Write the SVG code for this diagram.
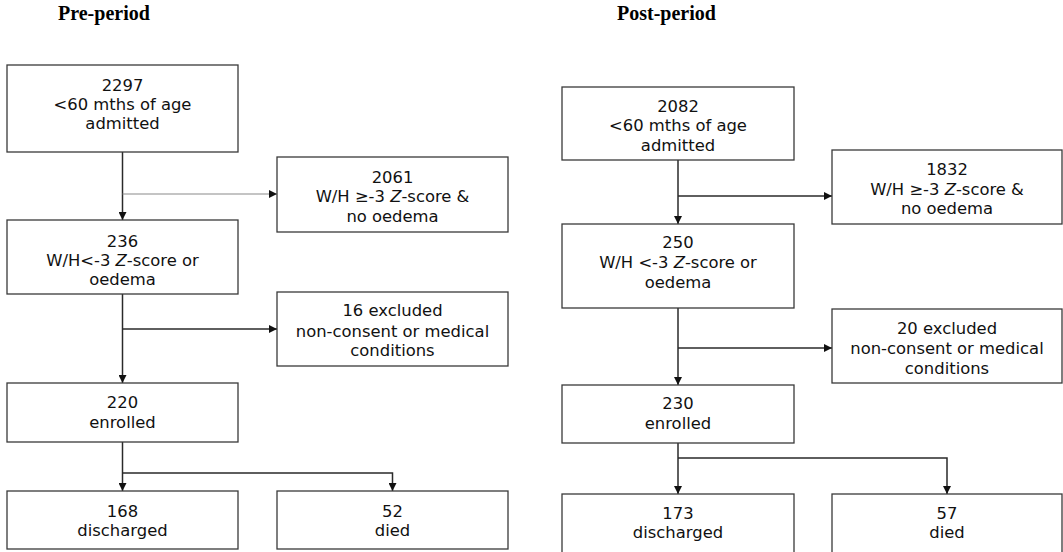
<svg xmlns="http://www.w3.org/2000/svg" width="1063" height="552" viewBox="0 0 1063 552">
<style>
.box{fill:#fff;stroke:#3a3a3a;stroke-width:1.3}
.t{font-family:"DejaVu Sans",Verdana,sans-serif;font-size:16.4px;fill:#111;text-anchor:middle}
.title{font-family:"Liberation Serif","Times New Roman",serif;font-size:20px;font-weight:bold;fill:#000}
.c{fill:none;stroke:#2a2a2a;stroke-width:1.5;marker-end:url(#ah)}
.c.light{stroke:#8a8a8a;stroke-width:1.2}
</style>
<defs>
<marker id="ah" viewBox="0 0 8 8" refX="8" refY="4" markerWidth="8" markerHeight="8" markerUnits="userSpaceOnUse" orient="auto">
<path d="M0,0 L8,4 L0,8 z" fill="#111"/>
</marker>
</defs>
<rect width="1063" height="552" fill="#fff"/>
<text class="title" x="58" y="20">Pre-period</text>
<text class="title" x="617" y="20">Post-period</text>

<g id="connectors">
<path class="c" d="M122.5,152 V220"/>
<path class="c light" d="M122.5,194 H277"/>
<path class="c" d="M122.5,294 V383"/>
<path class="c" d="M122.5,329 H277"/>
<path class="c" d="M122.5,442 V491"/>
<path class="c" d="M122.5,473 H392.5 V491"/>
<path class="c" d="M678,160 V224"/>
<path class="c" d="M678,196 H832"/>
<path class="c" d="M678,308 V385"/>
<path class="c" d="M678,348 H832"/>
<path class="c" d="M678,443 V494"/>
<path class="c" d="M678,458 H947 V494"/>
</g>

<g id="pre-admitted">
<rect class="box" x="7" y="65" width="231" height="87"/>
<text class="t" x="122.5" y="91">2297</text>
<text class="t" x="122.5" y="110">&lt;60 mths of age</text>
<text class="t" x="122.5" y="129">admitted</text>
</g>
<g id="pre-notsam">
<rect class="box" x="277" y="157" width="231" height="75"/>
<text class="t" x="392.5" y="183">2061</text>
<text class="t" x="392.5" y="202">W/H ≥-3 <tspan font-style="italic">Z</tspan>-score &amp;</text>
<text class="t" x="392.5" y="222">no oedema</text>
</g>
<g id="pre-sam">
<rect class="box" x="7" y="220" width="231" height="74"/>
<text class="t" x="122.5" y="247">236</text>
<text class="t" x="122.5" y="266">W/H&lt;-3 <tspan font-style="italic">Z</tspan>-score or</text>
<text class="t" x="122.5" y="285">oedema</text>
</g>
<g id="pre-excluded">
<rect class="box" x="277" y="292" width="231" height="74"/>
<text class="t" x="392.5" y="316">16 excluded</text>
<text class="t" x="392.5" y="337">non-consent or medical</text>
<text class="t" x="392.5" y="356">conditions</text>
</g>
<g id="pre-enrolled">
<rect class="box" x="7" y="383" width="231" height="59"/>
<text class="t" x="122.5" y="408">220</text>
<text class="t" x="122.5" y="428">enrolled</text>
</g>
<g id="pre-discharged">
<rect class="box" x="7" y="491" width="231" height="58"/>
<text class="t" x="122.5" y="517">168</text>
<text class="t" x="122.5" y="536">discharged</text>
</g>
<g id="pre-died">
<rect class="box" x="277" y="491" width="231" height="58"/>
<text class="t" x="392.5" y="517">52</text>
<text class="t" x="392.5" y="536">died</text>
</g>

<g id="post-admitted">
<rect class="box" x="562" y="87" width="232" height="73"/>
<text class="t" x="678" y="112">2082</text>
<text class="t" x="678" y="131">&lt;60 mths of age</text>
<text class="t" x="678" y="151">admitted</text>
</g>
<g id="post-notsam">
<rect class="box" x="832" y="150" width="230" height="74"/>
<text class="t" x="947" y="175">1832</text>
<text class="t" x="947" y="195">W/H ≥-3 <tspan font-style="italic">Z</tspan>-score &amp;</text>
<text class="t" x="947" y="214">no oedema</text>
</g>
<g id="post-sam">
<rect class="box" x="562" y="224" width="232" height="84"/>
<text class="t" x="678" y="248">250</text>
<text class="t" x="678" y="268">W/H &lt;-3 <tspan font-style="italic">Z</tspan>-score or</text>
<text class="t" x="678" y="288">oedema</text>
</g>
<g id="post-excluded">
<rect class="box" x="832" y="309" width="230" height="74"/>
<text class="t" x="947" y="334">20 excluded</text>
<text class="t" x="947" y="354">non-consent or medical</text>
<text class="t" x="947" y="374">conditions</text>
</g>
<g id="post-enrolled">
<rect class="box" x="562" y="385" width="232" height="58"/>
<text class="t" x="678" y="409">230</text>
<text class="t" x="678" y="429">enrolled</text>
</g>
<g id="post-discharged">
<rect class="box" x="562" y="494" width="232" height="62"/>
<text class="t" x="678" y="519">173</text>
<text class="t" x="678" y="538">discharged</text>
</g>
<g id="post-died">
<rect class="box" x="832" y="494" width="230" height="62"/>
<text class="t" x="947" y="519">57</text>
<text class="t" x="947" y="538">died</text>
</g>
</svg>
